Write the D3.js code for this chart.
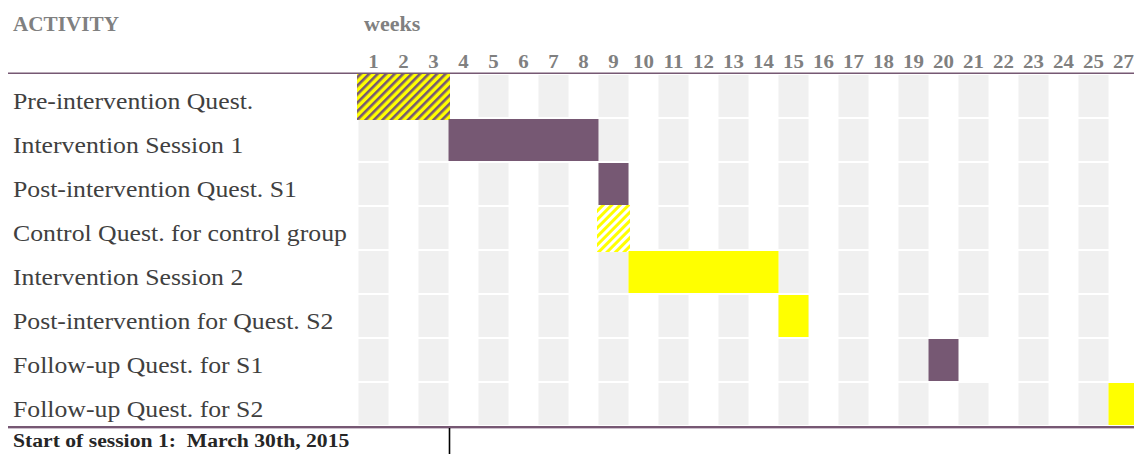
<!DOCTYPE html>
<html>
<head>
<meta charset="utf-8">
<script src="https://cdn.jsdelivr.net/npm/d3@7/dist/d3.min.js"></script>
<style>
  html, body { margin: 0; padding: 0; background: #fff; }
  svg { display: block; }
  text { font-family: "Liberation Serif", "Times New Roman", serif; white-space: pre; }
</style>
</head>
<body>
<svg id="chart" width="1134" height="454"></svg>
<script>
// Activities, one per row
const activities = [
  "Pre-intervention Quest.",
  "Intervention Session 1",
  "Post-intervention Quest. S1",
  "Control Quest. for control group",
  "Intervention Session 2",
  "Post-intervention for Quest. S2",
  "Follow-up Quest. for S1",
  "Follow-up Quest. for S2"
];

// Week column labels (the last column is week 27)
const weekLabels = ["1","2","3","4","5","6","7","8","9","10","11","12","13",
  "14","15","16","17","18","19","20","21","22","23","24","25","27"];

// First and last week of each activity
const startWeek = ["1", "4", "9", "9", "10", "15", "20", "27"];
const endWeek   = ["3", "8", "9", "9", "14", "15", "20", "27"];

// Fill kind of each activity bar
const fillKind = ["hatchPurple", "purple", "purple", "hatchYellow",
  "yellow", "yellow", "purple", "yellow"];

// Grid cells left blank
const blankCells = [["Follow-up Quest. for S1", "21"]];

const footerText = "Start of session 1:  March 30th, 2015";
const startMarkerWeek = "4";

const PURPLE = "#765873";
const YELLOW = "#ffff00";
const GREY_CELL = "#f0f0f0";

const svg = d3.select("#chart");

const x = d3.scaleBand().domain(weekLabels).range([358.5, 358.5 + 30 * weekLabels.length]);
const y = d3.scaleBand().domain(activities).range([74, 426]);

// hatch patterns
const defs = svg.append("defs");
function hatch(id, bg, fg, w) {
  const p = defs.append("pattern")
    .attr("id", id)
    .attr("patternUnits", "userSpaceOnUse")
    .attr("width", 6).attr("height", 6)
    .attr("patternTransform", "rotate(45)");
  p.append("rect").attr("width", 6).attr("height", 6).attr("fill", bg);
  p.append("rect").attr("width", w).attr("height", 6).attr("fill", fg);
}
hatch("hp", YELLOW, PURPLE, 2.6);
hatch("hy", "#ffffff", YELLOW, 3);

const fills = {
  purple: PURPLE,
  yellow: YELLOW,
  hatchPurple: "url(#hp)",
  hatchYellow: "url(#hy)"
};

// alternating grey grid cells
const cells = [];
activities.forEach(a => {
  weekLabels.forEach((w, i) => {
    if (i % 2 !== 0) return;
    if (blankCells.some(b => b[0] === a && b[1] === w)) return;
    cells.push({ a, w });
  });
});
svg.append("g").selectAll("rect").data(cells).join("rect")
  .attr("x", d => x(d.w))
  .attr("y", d => y(d.a) + 1)
  .attr("width", x.bandwidth())
  .attr("height", y.bandwidth() - 2)
  .attr("fill", GREY_CELL);

// activity bars
const isHatch = k => k.startsWith("hatch");
const bars = activities.map((a, i) => ({ a, s: startWeek[i], e: endWeek[i], k: fillKind[i] }));
svg.append("g").selectAll("rect").data(bars).join("rect")
  .attr("x", d => x(d.s) - (isHatch(d.k) ? 1.5 : 0))
  .attr("y", d => y(d.a) + 1 - (isHatch(d.k) ? 2 : 0))
  .attr("width", d => x(d.e) + x.bandwidth() - x(d.s) + (isHatch(d.k) ? 3 : 0))
  .attr("height", d => y.bandwidth() - 2 + (isHatch(d.k) ? 5 : 0))
  .attr("fill", d => fills[d.k]);

// header and bottom rules
svg.append("line")
  .attr("x1", 8).attr("x2", 1134)
  .attr("y1", 73.3).attr("y2", 73.3)
  .attr("stroke", PURPLE).attr("stroke-width", 1.6);
svg.append("line")
  .attr("x1", 8).attr("x2", 1134)
  .attr("y1", 427).attr("y2", 427)
  .attr("stroke", PURPLE).attr("stroke-width", 2);
svg.append("line")
  .attr("x1", 8).attr("x2", 1134)
  .attr("y1", 428.5).attr("y2", 428.5)
  .attr("stroke", "#cdbfcc").attr("stroke-width", 1);

// helper for horizontally stretched text
function stretchedText(g, tx, ty, str, anchor, sx) {
  return g.append("text")
    .attr("transform", `translate(${tx},${ty}) scale(${sx},1)`)
    .attr("text-anchor", anchor || "start")
    .text(str);
}

// column headers
const head = svg.append("g").attr("fill", "#808080").attr("font-weight", "bold");
stretchedText(head, 13, 31, "ACTIVITY", "start", 1.06).attr("font-size", 20);
stretchedText(head, 364, 31, "weeks", "start", 1.1).attr("font-size", 20);
weekLabels.forEach(w => {
  stretchedText(head, x(w) + x.bandwidth() / 2, 67.5, w, "middle", 1.1).attr("font-size", 19);
});

// activity labels
const lab = svg.append("g").attr("fill", "#404040").attr("font-size", 23);
activities.forEach(a => {
  stretchedText(lab, 13, y(a) + y.bandwidth() / 2 + 13, a, "start", 1.12);
});

// footer note and session start marker
const foot = svg.append("g").attr("fill", "#262626").attr("font-weight", "bold").attr("font-size", 19);
stretchedText(foot, 13, 447, footerText, "start", 1.14);
svg.append("line")
  .attr("x1", x(startMarkerWeek) + 1).attr("x2", x(startMarkerWeek) + 1)
  .attr("y1", 428).attr("y2", 454)
  .attr("stroke", "#000").attr("stroke-width", 1.6);
</script>
</body>
</html>
